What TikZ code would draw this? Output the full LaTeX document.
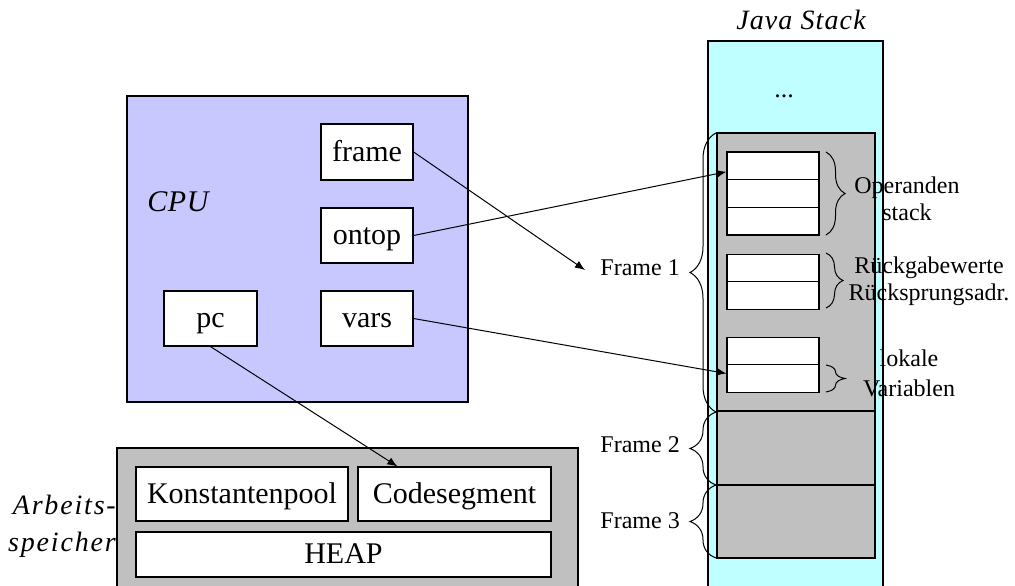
\documentclass[tikz,border=0pt]{standalone}
\usepackage{fontspec}
\setmainfont{Liberation Serif}
\usetikzlibrary{arrows.meta,decorations.pathreplacing,calc}
\definecolor{stackcyan}{RGB}{192,255,255}
\definecolor{framegray}{RGB}{192,192,192}
\definecolor{cpublue}{RGB}{200,200,255}
\begin{document}
\begin{tikzpicture}[x=1pt,y=-1pt,
  reg/.style={draw, fill=white, line width=1.2pt, minimum width=92pt, minimum height=56pt, inner sep=0pt, text height=22pt, text depth=4pt, font=\fontsize{30}{36}\selectfont},
  cell/.style={draw, fill=white, line width=1.2pt, minimum width=92pt, minimum height=27.6pt, inner sep=0pt},
  fr/.style={draw, fill=framegray, line width=1.2pt, minimum width=158pt, inner sep=0pt},
  mem/.style={draw, fill=white, line width=1.2pt, inner sep=0pt, text height=22pt, text depth=4pt, font=\fontsize{30}{36}\selectfont},
  arr/.style={line width=1pt, -{Latex[length=10pt,width=8pt]}},
  brc/.style={decorate, decoration={brace, amplitude=#1}, line width=1pt},
  small/.style={font=\fontsize{24}{27}\selectfont, inner sep=0pt},
  ital/.style={font=\fontsize{28}{37}\itshape\selectfont, inner sep=0pt}
]
\useasboundingbox (0,0) rectangle (1015,586);
% Java stack
\fill[stackcyan] (708,41) rectangle (883,586);
\draw[line width=1.2pt] (708,586) -- (708,41) -- (883,41) -- (883,586);
\node[ital, font=\fontsize{28}{37}\itshape\addfontfeatures{LetterSpace=4}\selectfont] (jslabel) at (801,20) {Java Stack};
\node[small, font=\fontsize{26}{30}\selectfont] (dots) at (784,96) {...};
\node[fr, minimum height=278pt] (f1) at (796,272) {};
\node[fr, minimum height=74pt] (f2) at (796,448) {};
\node[fr, minimum height=73pt] (f3) at (796,521.5) {};
% cells
\node[cell] (o1) at (773,165.8) {};
\node[cell] (o2) at (773,193.5) {};
\node[cell] (o3) at (773,221.2) {};
\node[cell, minimum height=27.5pt] (r1) at (773,268) {};
\node[cell, minimum height=27.5pt] (r2) at (773,295.5) {};
\node[cell, minimum height=27.5pt] (l1) at (773,351) {};
\node[cell, minimum height=27.5pt] (l2) at (773,378.5) {};
% CPU
\node[draw, fill=cpublue, line width=1.2pt, minimum width=341pt, minimum height=306pt, inner sep=0pt] (cpu) at (297.5,249) {};
\node[ital, font=\fontsize{30}{36}\itshape\addfontfeatures{LetterSpace=2}\selectfont] (cpulabel) at (178,202) {CPU};
\node[reg] (frame) at (367,152) {frame};
\node[reg, minimum height=55pt] (ontop) at (367,235.5) {ontop};
\node[reg, minimum height=55pt] (vars) at (367,318.5) {vars};
\node[reg, minimum height=55pt, minimum width=93pt] (pc) at (210.5,318.5) {pc};
% Arbeitsspeicher
\fill[framegray] (117,448) rectangle (578,586);
\draw[line width=1.2pt] (117,586) -- (117,448) -- (578,448) -- (578,586);
\node[mem, minimum width=212pt, minimum height=54pt] (kp) at (242,494) {Konstantenpool};
\node[mem, minimum width=193pt, minimum height=54pt] (code) at (454.5,494) {Codesegment};
\node[mem, minimum width=415pt, minimum height=45pt] (heap) at (343.5,554.5) {HEAP};
\node[ital, font=\fontsize{28}{37}\itshape\addfontfeatures{LetterSpace=6.5}\selectfont, align=right, anchor=east] (arb) at (116,526) {Arbeits-\\speicher};
% frame labels
\node[small, anchor=east] (f1lab) at (680,268) {Frame 1};
\node[small, anchor=east] (f2lab) at (680,445) {Frame 2};
\node[small, anchor=east] (f3lab) at (680,521) {Frame 3};
\coordinate (f1tip) at (585,270);
% braces
\draw[brc=26] (716,412) -- (716,133);
\draw[brc=26] (716,485) -- (716,412);
\draw[brc=26] (716,558) -- (716,485);
\draw[brc=19] (826,152) -- (826,235);
\draw[brc=17] (826,253) -- (826,308);
\draw[brc=19] (826,365) -- (826,392);
% brace labels
\node[small, align=center] (oplab) at (907,199) {Operanden\\stack};
\node[small, align=center] (rlab) at (929,281) {Rückgabewerte\\Rücksprungsadr.};
\node[small, align=center, font=\fontsize{24}{30}\selectfont] (llab) at (909,373) {lokale\\Variablen};
% arrows
\draw[arr] (frame.east) -- (f1tip);
\draw[arr] (ontop.east) -- ($(o1.west)+(0,6)$);
\draw[arr] (vars.east) -- ($(l2.west)+(0,-5)$);
\draw[arr] (pc.south) -- ($(code.north west)+(40,0)$);
\end{tikzpicture}
\end{document}
